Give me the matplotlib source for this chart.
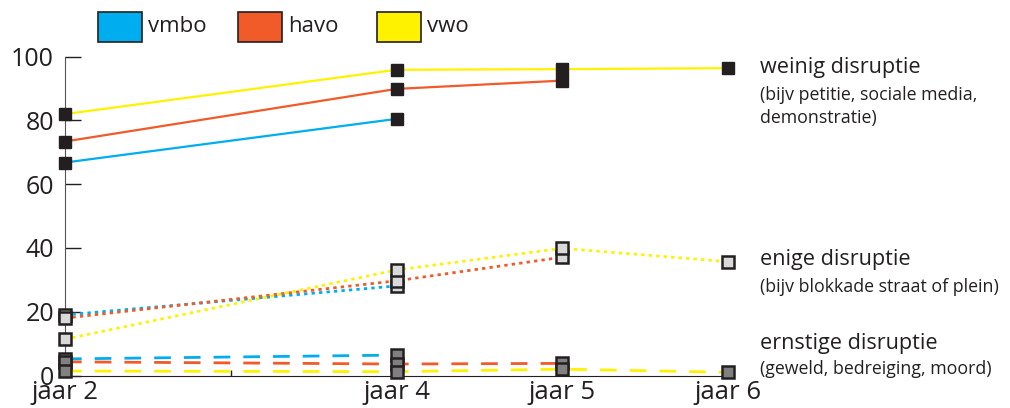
import matplotlib.pyplot as plt
from matplotlib.patches import Rectangle
import numpy as np

plt.rcParams['font.family'] = ['Open Sans', 'DejaVu Sans']

# data
jaren = [2, 4, 5, 6]
niveaus = ["vmbo", "havo", "vwo"]
kleuren = ["#00aeef", "#f15a29", "#fff200"]

weinig = {
    "vmbo": [66.8, 80.5, np.nan, np.nan],
    "havo": [73.4, 89.9, 92.5, np.nan],
    "vwo": [82.0, 95.9, 96.1, 96.4],
}
enige = {
    "vmbo": [19.0, 28.1, np.nan, np.nan],
    "havo": [18.0, 29.7, 37.1, np.nan],
    "vwo": [11.4, 33.1, 39.9, 35.7],
}
ernstige = {
    "vmbo": [5.2, 6.4, np.nan, np.nan],
    "havo": [4.3, 3.6, 3.8, np.nan],
    "vwo": [1.4, 1.2, 2.0, 1.0],
}

xticks = [2, 3, 4, 5, 6]
xlabels = ["jaar 2", "", "jaar 4", "jaar 5", "jaar 6"]
yticks = [0, 20, 40, 60, 80, 100]

W, H = 1010, 408
fig = plt.figure(figsize=(W / 100, H / 100), dpi=100)
ax = fig.add_axes([65 / W, 1 - 375.5 / H, (728 - 65) / W, (375.5 - 56.7) / H])

x = np.array(jaren)

# lines first
for niv, kl in zip(niveaus, kleuren):
    ax.plot(x, weinig[niv], color=kl, lw=1.6, zorder=2, clip_on=False)
    ax.plot(x, enige[niv], color=kl, lw=2.0, ls=(0, (1.2, 1.5)), zorder=2, clip_on=False)
    ax.plot(x, ernstige[niv], color=kl, lw=2.0, ls=(0, (6, 4.7)), zorder=2, clip_on=False)

# markers on top
for niv in niveaus:
    ax.plot(x, weinig[niv], ls="none", marker="s", ms=8.5, mfc="#231f20", mec="#231f20",
            zorder=5, clip_on=False)
    ax.plot(x, enige[niv], ls="none", marker="s", ms=8, mfc="#d9d9d9", mec="#231f20",
            mew=1.8, zorder=5, clip_on=False)
    ax.plot(x, ernstige[niv], ls="none", marker="s", ms=8, mfc="#808080", mec="#231f20",
            mew=1.8, zorder=5, clip_on=False)

ax.set_xlim(2, 6)
ax.set_ylim(0, 100)
ax.set_xticks(xticks)
ax.set_xticklabels(xlabels)
ax.set_yticks(yticks)
ax.tick_params(axis="y", direction="in", length=11.5, width=1, color="#231f20",
               labelsize=18, pad=8, labelcolor="#231f20")
ax.tick_params(axis="x", direction="in", length=4, width=1, color="#231f20",
               labelsize=18.5, pad=3, labelcolor="#231f20")
for s in ["top", "right"]:
    ax.spines[s].set_visible(False)
ax.spines["left"].set_color("#555555")
ax.spines["bottom"].set_color("#231f20")
ax.patch.set_alpha(0)

# legend boxes
legend_x = [97.7, 237.7, 377.3]
for lx, niv, kl in zip(legend_x, niveaus, kleuren):
    fig.add_artist(Rectangle((lx / W, 1 - 41.7 / H), 44 / W, 29.4 / H, facecolor=kl,
                             edgecolor="#231f20", lw=1.2, transform=fig.transFigure))
    fig.text((lx + 50) / W, 1 - 27 / H, niv, fontsize=16, va="center", ha="left",
             color="#231f20")

# right-hand labels
def label(y, txt, size):
    fig.text(760 / W, 1 - y / H, txt, fontsize=size, va="center", ha="left", color="#231f20")

label(67, "weinig disruptie", 15.6)
label(95, "(bijv petitie, sociale media,", 12.8)
label(118, "demonstratie)", 12.8)
label(260, "enige disruptie", 15.6)
label(287, "(bijv blokkade straat of plein)", 12.8)
label(344, "ernstige disruptie", 15.6)
label(369, "(geweld, bedreiging, moord)", 12.8)

fig.savefig("out.png", dpi=100)
